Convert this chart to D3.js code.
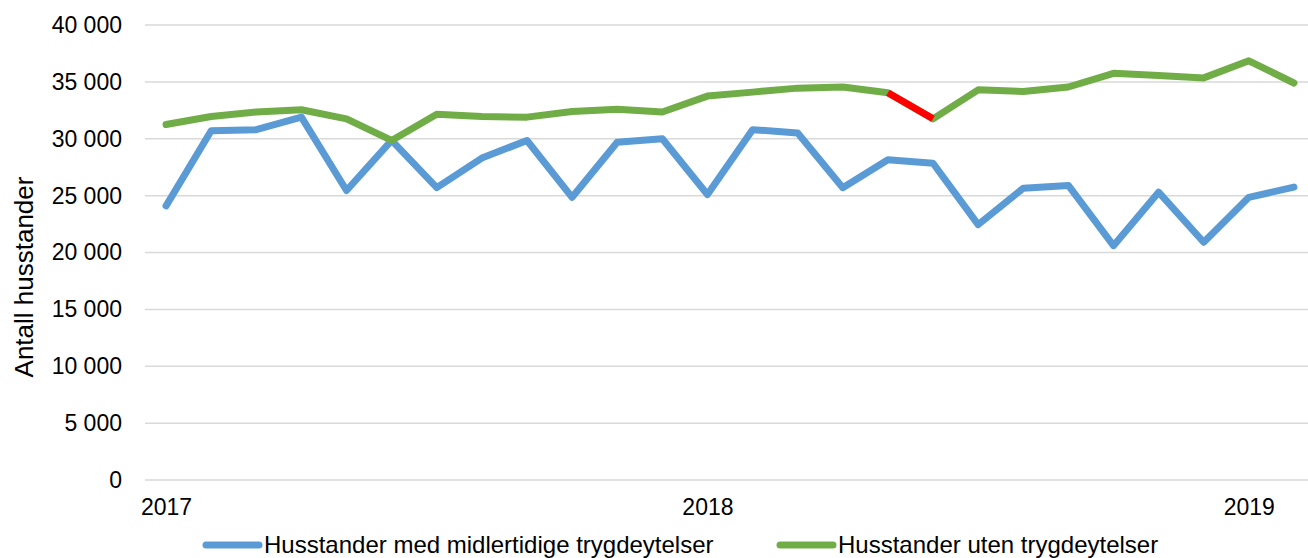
<!DOCTYPE html>
<html>
<head>
<meta charset="utf-8">
<script src="https://cdn.jsdelivr.net/npm/d3@7"></script>
<style>
  body { margin: 0; background: #fff; }
  svg { display: block; font-family: "Liberation Sans", Arial, sans-serif; }
  .tick text { font-size: 23px; fill: #000; }
</style>
</head>
<body>
<div id="chart"></div>
<script>
// months shown on the x axis (Jan 2017 - Feb 2019)
var months = ["2017-01","2017-02","2017-03","2017-04","2017-05","2017-06","2017-07","2017-08","2017-09","2017-10","2017-11","2017-12",
              "2018-01","2018-02","2018-03","2018-04","2018-05","2018-06","2018-07","2018-08","2018-09","2018-10","2018-11","2018-12",
              "2019-01","2019-02"];
var yearTicks = ["2017-01", "2018-01", "2019-01"];
var yTicks = [0, 5000, 10000, 15000, 20000, 25000, 30000, 35000, 40000];

var seriesNames = ["Husstander med midlertidige trygdeytelser", "Husstander uten trygdeytelser"];

var medYtelser = [24100, 30700, 30800, 31900, 25450, 29850, 25700, 28300, 29850, 24850, 29700, 30000,
                  25100, 30800, 30500, 25700, 28150, 27850, 22450, 25650, 25900, 20600, 25300, 20900,
                  24850, 25750];
var utenYtelser = [31250, 31950, 32350, 32550, 31750, 29850, 32150, 31950, 31900, 32400, 32600, 32350,
                   33750, 34100, 34450, 34550, 34050, 31750, 34300, 34150, 34550, 35750, 35550, 35350,
                   36850, 34900];
// segment of the green series drawn in red (month index from, to)
var redSegment = [16, 17];

var colors = ["#5B9BD5", "#70AD47"];

var W = 1308, H = 558;
var svg = d3.select("#chart").append("svg").attr("width", W).attr("height", H);

var x = d3.scalePoint().domain(months).range([143.5, 1316.5]).padding(0.5);
var y = d3.scaleLinear().domain([0, 40000]).range([480, 25]);

var fmt = d3.formatLocale({decimal: ",", thousands: " ", grouping: [3], currency: ["", ""]}).format(",");

// gridlines
svg.append("g")
  .selectAll("line")
  .data(yTicks)
  .join("line")
    .attr("x1", 145).attr("x2", 1316)
    .attr("y1", function(d) { return y(d); })
    .attr("y2", function(d) { return y(d); })
    .attr("stroke", "#D9D9D9")
    .attr("stroke-width", 1.5);

// y axis
var yAxis = svg.append("g")
  .attr("transform", "translate(145,0)")
  .call(d3.axisLeft(y).tickValues(yTicks).tickSize(0).tickPadding(23).tickFormat(fmt));
yAxis.select(".domain").remove();
yAxis.selectAll("text").attr("font-family", null);

// x axis
var xAxis = svg.append("g")
  .attr("transform", "translate(0,480)")
  .call(d3.axisBottom(x).tickValues(yearTicks).tickSize(0).tickPadding(18.5)
        .tickFormat(function(d) { return d.slice(0, 4); }));
xAxis.select(".domain").remove();
xAxis.selectAll("text").attr("font-family", null);

// y axis title
svg.append("text")
  .attr("transform", "translate(33,277) rotate(-90)")
  .attr("text-anchor", "middle")
  .style("font-size", "26px")
  .text("Antall husstander");

var line = d3.line()
  .x(function(d, i) { return x(months[i]); })
  .y(function(d) { return y(d); });

// blue series
svg.append("path")
  .datum(medYtelser)
  .attr("fill", "none")
  .attr("stroke", colors[0])
  .attr("stroke-width", 7)
  .attr("stroke-linejoin", "round")
  .attr("stroke-linecap", "round")
  .attr("d", line);

// green series
svg.append("path")
  .datum(utenYtelser)
  .attr("fill", "none")
  .attr("stroke", colors[1])
  .attr("stroke-width", 7)
  .attr("stroke-linejoin", "round")
  .attr("stroke-linecap", "round")
  .attr("d", line);

// red highlighted segment
svg.append("line")
  .attr("x1", x(months[redSegment[0]]))
  .attr("y1", y(utenYtelser[redSegment[0]]))
  .attr("x2", x(months[redSegment[1]]))
  .attr("y2", y(utenYtelser[redSegment[1]]))
  .attr("stroke", "#FF0000")
  .attr("stroke-width", 7);

// legend
var legendX = [203, 777];
var legend = svg.append("g")
  .selectAll("g")
  .data(seriesNames)
  .join("g")
    .attr("transform", function(d, i) { return "translate(" + legendX[i] + ",545)"; });
legend.append("line")
  .attr("x1", 3).attr("x2", 56)
  .attr("stroke", function(d, i) { return colors[i]; })
  .attr("stroke-width", 7)
  .attr("stroke-linecap", "round");
legend.append("text")
  .attr("x", 61)
  .attr("y", 8)
  .style("font-size", "24px")
  .text(function(d) { return d; });
</script>
</body>
</html>
